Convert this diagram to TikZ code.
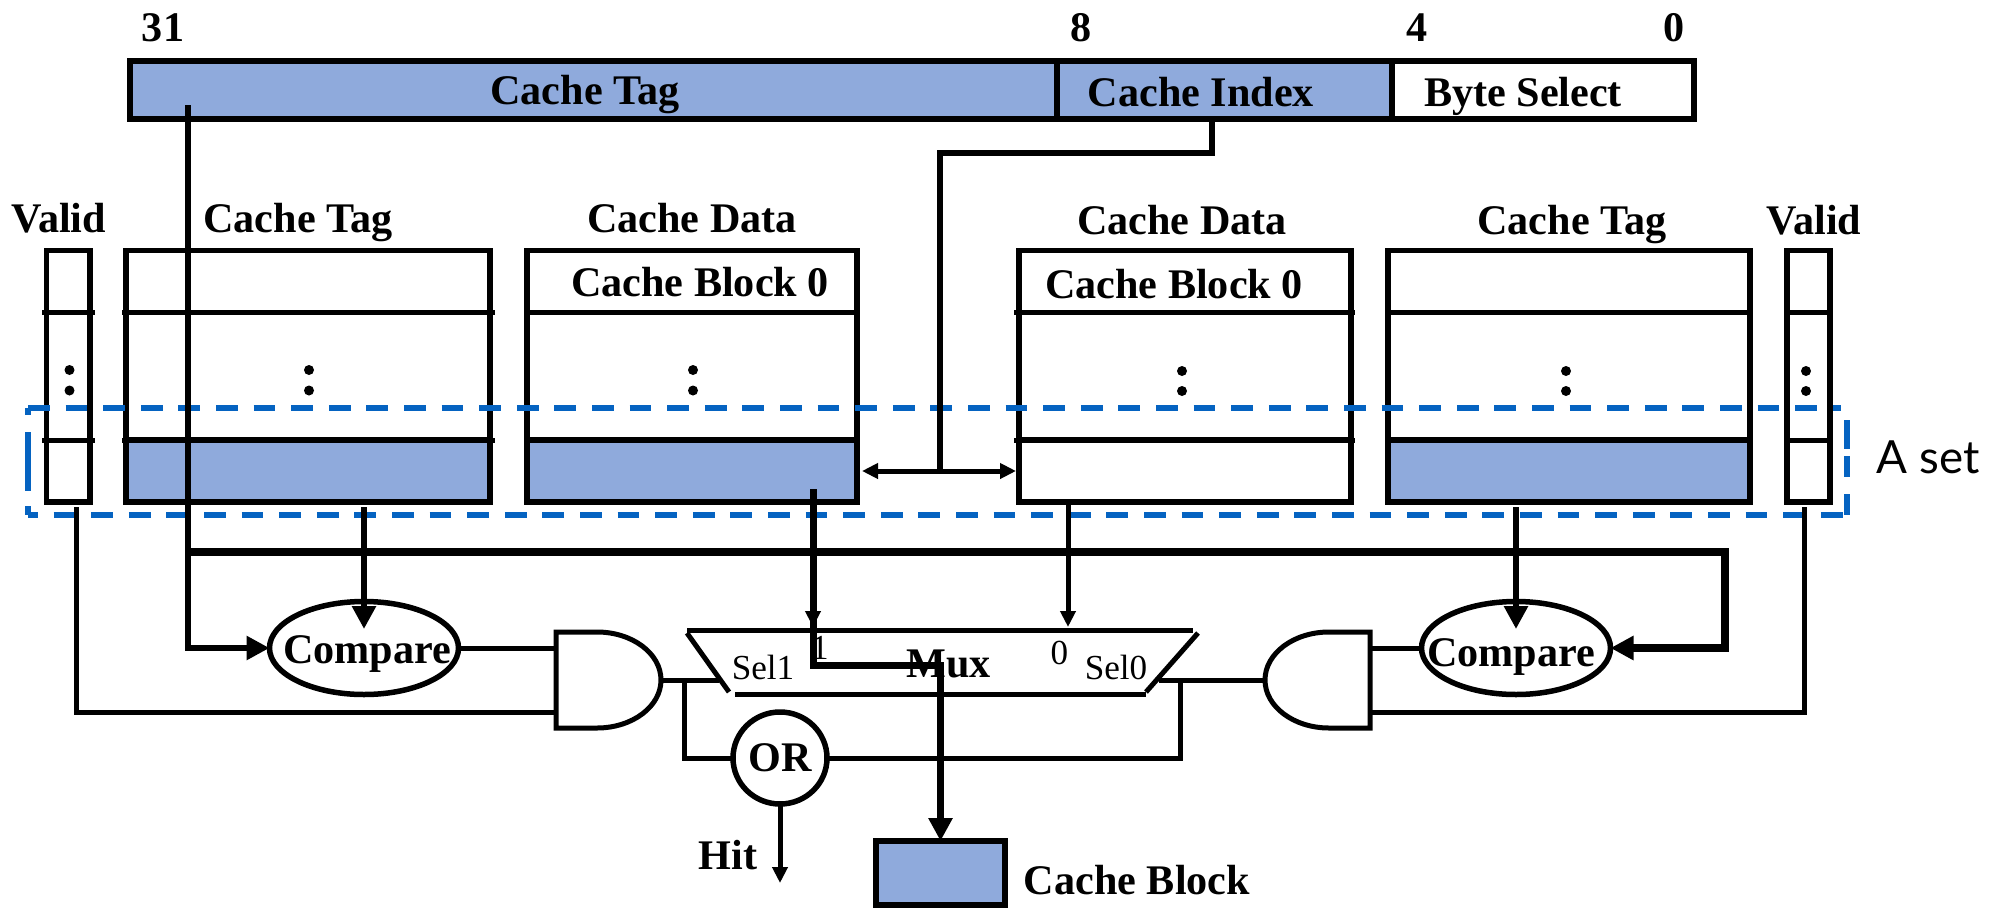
\documentclass[tikz,border=0pt]{standalone}
\usepackage{fontspec}
\setmainfont{Liberation Serif}
\newfontfamily\setfont{Lato}
\usetikzlibrary{arrows.meta,shapes.geometric}
\definecolor{cacheblue}{HTML}{8FAADC}
\definecolor{setblue}{HTML}{0563C1}
\tikzset{
	bighead/.tip={Triangle[length=2.3mm,width=2.3mm]},
	smallhead/.tip={Triangle[length=1.6mm,width=1.5mm]},
	box/.style={draw, line width=0.55mm, inner sep=0, outer sep=0},
	bluebox/.style={box, fill=cacheblue},
	rowline/.style={line width=0.5mm},
	wire/.style={line width=0.5mm},
	fatwire/.style={line width=0.6mm},
	setline/.style={line width=0.55mm, color=setblue},
	boldlabel/.style={font=\fontsize{12}{12}\selectfont\bfseries, anchor=base, inner sep=0},
	thinlabel/.style={font=\fontsize{10}{12}\selectfont, anchor=base, inner sep=0},
	comparator/.style={box, ellipse, minimum width=1.89cm, minimum height=0.93cm},
	orgate/.style={box, ellipse, minimum width=0.94cm, minimum height=0.92cm, font=\fontsize{12}{12}\selectfont\bfseries}
}

\begin{document}
\begin{tikzpicture}
	\useasboundingbox (0, 0) rectangle (19.97, 9.08);

	%%%%% address %%%%%
	\node[bluebox, line width=0.6mm, minimum width=9.27cm, minimum height=0.58cm] (tagfield) at (5.935, 8.18) {};
	\node[bluebox, minimum width=3.35cm, minimum height=0.58cm] (indexfield) at (12.245, 8.18) {};
	\node[box, minimum width=3.02cm, minimum height=0.58cm] (bytefield) at (15.43, 8.18) {};

	\node[boldlabel] (bit31) at (1.63, 8.67) {31};
	\node[boldlabel] (bit8) at (10.81, 8.67) {8};
	\node[boldlabel] (bit4) at (14.17, 8.67) {4};
	\node[boldlabel] (bit0) at (16.74, 8.67) {0};
	\node[boldlabel] (taglabel) at (5.85, 8.04) {Cache Tag};
	\node[boldlabel] (indexlabel) at (12.01, 8.02) {Cache Index};
	\node[boldlabel] (bytelabel) at (15.23, 8.02) {Byte Select};

	%%%%% tables %%%%%
	\node[bluebox, minimum width=3.64cm, minimum height=0.62cm] (tagLset) at (3.08, 4.37) {};
	\node[bluebox, minimum width=3.30cm, minimum height=0.62cm] (dataLset) at (6.92, 4.37) {};
	\node[box, minimum width=3.32cm, minimum height=0.62cm] (dataRset) at (11.85, 4.37) {};
	\node[bluebox, minimum width=3.62cm, minimum height=0.62cm] (tagRset) at (15.69, 4.37) {};

	\node[box, minimum width=0.435cm, minimum height=2.515cm] (validL) at (0.6825, 5.3175) {};
	\node[box, minimum width=3.64cm, minimum height=2.515cm] (tagL) at (3.08, 5.3175) {};
	\node[box, minimum width=3.30cm, minimum height=2.515cm] (dataL) at (6.92, 5.3175) {};
	\node[box, minimum width=3.32cm, minimum height=2.515cm] (dataR) at (11.85, 5.3175) {};
	\node[box, minimum width=3.62cm, minimum height=2.515cm] (tagR) at (15.69, 5.3175) {};
	\node[box, minimum width=0.43cm, minimum height=2.515cm] (validR) at (18.085, 5.3175) {};

	\draw[rowline] (0.42, 5.96) -- (0.95, 5.96);
	\draw[rowline] (0.42, 4.68) -- (0.95, 4.68);
	\draw[rowline] (1.22, 5.96) -- (4.95, 5.96);
	\draw[rowline] (1.22, 4.68) -- (4.95, 4.68);
	\draw[rowline] (5.27, 5.96) -- (8.57, 5.96);
	\draw[rowline] (5.27, 4.68) -- (8.57, 4.68);
	\draw[rowline] (10.14, 5.96) -- (13.55, 5.96);
	\draw[rowline] (10.14, 4.68) -- (13.55, 4.68);
	\draw[rowline] (13.88, 5.96) -- (17.50, 5.96);
	\draw[rowline] (13.88, 4.68) -- (17.50, 4.68);
	\draw[rowline] (17.87, 5.96) -- (18.30, 5.96);
	\draw[rowline] (17.87, 4.68) -- (18.30, 4.68);

	\fill (0.695, 5.38) circle (0.05);
	\fill (0.695, 5.175) circle (0.05);
	\fill (3.09, 5.38) circle (0.05);
	\fill (3.09, 5.175) circle (0.05);
	\fill (6.93, 5.38) circle (0.05);
	\fill (6.93, 5.175) circle (0.05);
	\fill (11.82, 5.37) circle (0.05);
	\fill (11.82, 5.17) circle (0.05);
	\fill (15.66, 5.37) circle (0.05);
	\fill (15.66, 5.17) circle (0.05);
	\fill (18.06, 5.37) circle (0.05);
	\fill (18.06, 5.17) circle (0.05);

	\node[boldlabel] (validLlabel) at (0.587, 6.76) {Valid};
	\node[boldlabel] (tagLlabel) at (2.98, 6.76) {Cache Tag};
	\node[boldlabel] (dataLlabel) at (6.92, 6.76) {Cache Data};
	\node[boldlabel] (blockLlabel) at (7.00, 6.12) {Cache Block 0};
	\node[boldlabel] (dataRlabel) at (11.82, 6.735) {Cache Data};
	\node[boldlabel] (tagRlabel) at (15.72, 6.735) {Cache Tag};
	\node[boldlabel] (validRlabel) at (18.14, 6.735) {Valid};
	\node[boldlabel] (blockRlabel) at (11.74, 6.10) {Cache Block 0};

	\draw[setline, dash pattern=on 2.17mm off 1.59mm] (0.28, 5.00) -- (18.41, 5.00);
	\draw[setline, dash pattern=on 2.17mm off 1.59mm, dash phase=1.2mm] (0.28, 3.93) -- (18.47, 3.93);
	\draw[setline, dash pattern=on 0.7mm off 1.7mm on 5.9mm off 1.5mm on 0.9mm off 5mm] (0.28, 5.00) -- (0.28, 3.93);
	\draw[setline, dash pattern=on 2.9mm off 0.7mm on 2.1mm off 1.7mm on 2.1mm off 5mm] (18.47, 4.88) -- (18.47, 3.93);
	\node[anchor=base, inner sep=0, font=\setfont\fontsize{13}{14}\selectfont] (setlabel) at (19.28, 4.345) {A set};

	%%%%% compare, and, or %%%%%
	\node[comparator] (cmpL) at (3.64, 2.60) {};
	\node[comparator] (cmpR) at (15.16, 2.60) {};
	\node[boldlabel] (cmpLlabel) at (3.67, 2.45) {Compare};
	\node[boldlabel] (cmpRlabel) at (15.11, 2.42) {Compare};
	\node[orgate] (orbox) at (7.80, 1.50) {OR};

	\draw[wire] (5.56, 2.76) -- (5.97, 2.76) arc (90:-90:0.64 and 0.48) -- (5.56, 1.80) -- cycle;
	\draw[wire] (13.70, 2.76) -- (13.29, 2.76) arc (90:270:0.64 and 0.48) -- (13.70, 1.80) -- cycle;

	\coordinate (andLtop) at (5.56, 2.60);
	\coordinate (andLbot) at (5.56, 1.96);
	\coordinate (andLout) at (6.61, 2.28);
	\coordinate (andRtop) at (13.70, 2.60);
	\coordinate (andRbot) at (13.70, 1.96);
	\coordinate (andRout) at (12.65, 2.28);

	%%%%% mux %%%%%
	\draw[wire] (6.87, 2.78) -- (11.93, 2.78);
	\draw[wire] (6.87, 2.75) -- (7.29, 2.16);
	\draw[wire] (7.35, 2.14) -- (11.46, 2.14);
	\draw[wire] (11.98, 2.75) -- (11.46, 2.16);
	\node[boldlabel] (muxlabel) at (9.485, 2.31) {Mux};
	\node[thinlabel] (sel1label) at (7.63, 2.29) {Sel1};
	\node[thinlabel] (sel0label) at (11.16, 2.29) {Sel0};
	\node[thinlabel] (mux1label) at (8.20, 2.49) {1};
	\node[thinlabel] (mux0label) at (10.595, 2.44) {0};

	\coordinate (muxLport) at (7.19, 2.28);
	\coordinate (muxRport) at (11.59, 2.28);
	\coordinate (muxLin) at (8.13, 2.81);
	\coordinate (muxRin) at (10.68, 2.81);

	%%%%% output %%%%%
	\node[bluebox, minimum width=1.29cm, minimum height=0.64cm] (outblock) at (9.405, 0.35) {};
	\node[boldlabel] (outlabel) at (11.37, 0.14) {Cache Block};
	\node[boldlabel] (hitlabel) at (7.28, 0.39) {Hit};

	%%%%% wires %%%%%
	\coordinate (tagtap) at (1.88, 8.03);
	\coordinate (busjoin) at (1.88, 3.56);
	\coordinate (busturn) at (17.25, 3.56);
	\draw[fatwire, -bighead] (tagtap) |- (cmpL.west);
	\draw[line width=0.75mm, -bighead] (busjoin) -- (busturn) |- (cmpR.east);

	\coordinate (indextap) at (12.12, 7.89);
	\coordinate (indexturn) at (12.12, 7.555);
	\coordinate (indexjoin) at (9.40, 4.37);
	\draw[fatwire] (indextap) -- (indexturn) -| (indexjoin);
	\draw[wire, smallhead-smallhead, shorten <=0.05cm, shorten >=0.03cm] (dataLset.east) -- (dataRset.west);

	\coordinate (tagLtap) at (3.64, 4.01);
	\coordinate (tagLhit) at (3.64, 2.79);
	\coordinate (tagRtap) at (15.16, 4.01);
	\coordinate (tagRhit) at (15.16, 2.79);
	\draw[fatwire, -bighead] (tagLtap) -- (tagLhit);
	\draw[fatwire, -bighead] (tagRtap) -- (tagRhit);

	\coordinate (validLtap) at (0.765, 4.01);
	\coordinate (validRtap) at (18.04, 4.01);
	\draw[wire] (validLtap) |- (andLbot);
	\draw[wire] (validRtap) |- (andRbot);
	\draw[wire] (cmpL.east) -- (andLtop);
	\draw[wire] (cmpR.west) -- (andRtop);

	\draw[wire] (andLout) -- (muxLport);
	\draw[wire] (andRout) -- (muxRport);
	\coordinate (orLtap) at (6.84, 2.28);
	\coordinate (orRtap) at (11.80, 2.28);
	\draw[wire] (orLtap) |- (orbox.west);
	\draw[wire] (orRtap) |- (orbox.east);

	\coordinate (hitend) at (7.80, 0.25);
	\draw[wire, -smallhead] (orbox.south) -- (hitend);

	\coordinate (dataLtap) at (8.13, 4.19);
	\coordinate (dataRtap) at (10.68, 4.04);
	\coordinate (outturn) at (9.405, 2.43);
	\draw[wire, -smallhead] (dataLtap) -- (muxLin);
	\draw[wire, -smallhead] (dataRtap) -- (muxRin);
	\draw[line width=0.7mm, -bighead] (dataLtap) |- (outturn) -- (outblock.north);
\end{tikzpicture}
\end{document}
